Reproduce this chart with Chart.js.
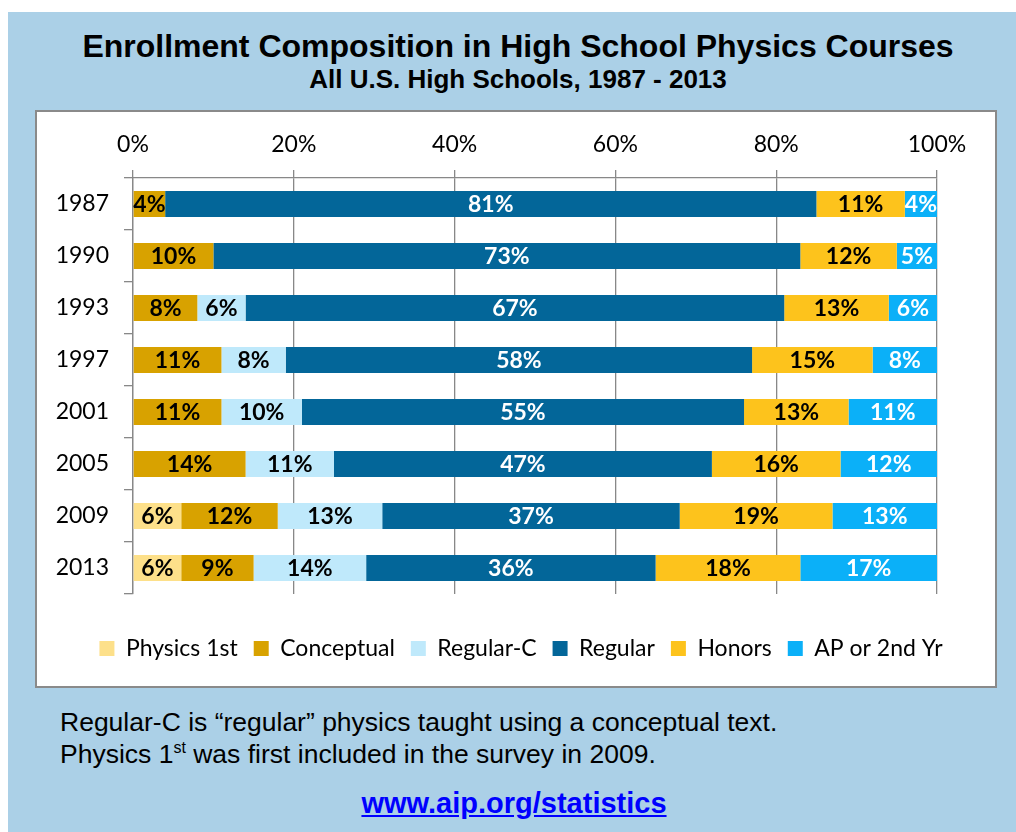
<!DOCTYPE html>
<html>
<head>
<meta charset="utf-8">
<script src="https://cdn.jsdelivr.net/npm/chart.js@4/dist/chart.umd.min.js"></script>
<style>
    html, body { margin: 0; padding: 0; background: #ffffff; }
    body { width: 1016px; height: 832px; position: relative; overflow: hidden; font-family: "Liberation Sans", Arial, sans-serif; }
    #panel { position: absolute; left: 8px; top: 12px; width: 1008px; height: 820px; background: #abd0e7; }
    .title { position: absolute; left: 18px; width: 1000px; text-align: center; font-weight: bold; color: #000; white-space: nowrap; line-height: 1.15; }
    #box { position: absolute; left: 35px; top: 110px; width: 958px; height: 574px; background: #fff; border: 2px solid #8a8a8a; }
    #box canvas { position: absolute; left: 0; top: 0; }
    .note { position: absolute; left: 60px; font-size: 26.5px; line-height: 30px; color: #000; white-space: nowrap; }
    .note sup { font-size: 16px; vertical-align: 10px; line-height: 0; }
    #link { position: absolute; left: 14px; width: 1000px; top: 786px; text-align: center; font-size: 29px; line-height: 34px; font-weight: bold; color: #0000ff; text-decoration: underline; }
</style>
</head>
<body>
<div id="panel"></div>
<div class="title" style="top: 28px; font-size: 32px;">Enrollment Composition in High School Physics Courses</div>
<div class="title" style="top: 65px; font-size: 26px;">All U.S. High Schools, 1987 - 2013</div>
<div id="box"><canvas id="enrollChart" width="958" height="574"></canvas></div>
<div class="note" style="top: 707px;">Regular-C is “regular” physics taught using a conceptual text.</div>
<div class="note" style="top: 739px;">Physics 1<sup>st</sup> was first included in the survey in 2009.</div>
<div id="link">www.aip.org/statistics</div>

<script>
// Chart data (percent of enrollment)
const years = ['1987', '1990', '1993', '1997', '2001', '2005', '2009', '2013'];
const physicsFirst = [0, 0, 0, 0, 0, 0, 6, 6];
const conceptual = [4, 10, 8, 11, 11, 14, 12, 9];
const regularC = [0, 0, 6, 8, 10, 11, 13, 14];
const regular = [81, 73, 67, 58, 55, 47, 37, 36];
const honors = [11, 12, 13, 15, 13, 16, 19, 18];
const apSecondYr = [4, 5, 6, 8, 11, 12, 13, 17];
const xTicks = [0, 20, 40, 60, 80, 100];

const tickFont = { family: 'Lato, "Open Sans", sans-serif', size: 23 };
const gridColor = '#888888';

function makeSet(label, data, color, textColor) {
    return {
        label: label,
        data: data,
        backgroundColor: color,
        borderWidth: 0,
        labelColor: textColor,
        barPercentage: 0.5,
        categoryPercentage: 1.0
    };
}

// Draw the value labels in the middle of each segment
const segmentLabels = {
    id: 'segmentLabels',
    afterDatasetsDraw(chart) {
        const ctx = chart.ctx;
        ctx.save();
        ctx.font = 'bold 23px Lato, "Open Sans", sans-serif';
        ctx.textAlign = 'center';
        ctx.textBaseline = 'middle';
        chart.data.datasets.forEach((ds, i) => {
            const meta = chart.getDatasetMeta(i);
            meta.data.forEach((bar, j) => {
                const v = ds.data[j];
                if (!v) return;
                ctx.fillStyle = ds.labelColor;
                ctx.fillText(v + '%', (bar.x + bar.base) / 2, bar.y + 1);
            });
        });
        ctx.restore();
    }
};

// The legend box stops at the right padding; nudge it so the row is centred in the frame
const legendShift = {
    id: 'legendShift',
    afterLayout(chart) {
        if (!chart.legend) return;
        chart.legend.left += 34;
        chart.legend.right += 34;
    }
};

new Chart(document.getElementById('enrollChart'), {
    type: 'bar',
    data: {
        labels: years,
        datasets: [
            makeSet('Physics 1st', physicsFirst, '#fde08a', '#000000'),
            makeSet('Conceptual', conceptual, '#d8a200', '#000000'),
            makeSet('Regular-C', regularC, '#bfe9fb', '#000000'),
            makeSet('Regular', regular, '#036699', '#ffffff'),
            makeSet('Honors', honors, '#fdc31c', '#000000'),
            makeSet('AP or 2nd Yr', apSecondYr, '#0bb0f8', '#ffffff')
        ]
    },
    options: {
        responsive: false,
        animation: false,
        indexAxis: 'y',
        layout: {
            padding: { left: 0, right: 58, top: 0, bottom: 16 }
        },
        plugins: {
            legend: {
                position: 'bottom',
                // empty title only used as a spacer above the legend row
                title: { display: true, text: '', font: { size: 10, lineHeight: 1 }, padding: { top: 17, bottom: 0 } },
                labels: {
                    font: tickFont,
                    color: '#000000',
                    boxWidth: 15,
                    boxHeight: 15,
                    padding: 16
                }
            },
            tooltip: { enabled: false }
        },
        scales: {
            x: {
                position: 'top',
                stacked: true,
                min: 0,
                max: 100,
                afterBuildTicks: axis => { axis.ticks = xTicks.map(v => ({ value: v })); },
                afterFit: axis => { axis.height = 66; },
                ticks: {
                    font: tickFont,
                    color: '#000000',
                    padding: 12,
                    maxRotation: 0,
                    callback: v => v + '%'
                },
                grid: { color: gridColor, lineWidth: 1.3, tickLength: 8 },
                border: { display: true, color: gridColor, width: 1.3 }
            },
            y: {
                stacked: true,
                afterFit: axis => { axis.width = 96; },
                ticks: { font: tickFont, color: '#000000', padding: 15 },
                grid: { offset: true, drawOnChartArea: false, color: gridColor, lineWidth: 1.3, tickLength: 9 },
                border: { display: true, color: gridColor, width: 1.3 }
            }
        }
    },
    plugins: [segmentLabels, legendShift]
});
</script>
</body>
</html>
